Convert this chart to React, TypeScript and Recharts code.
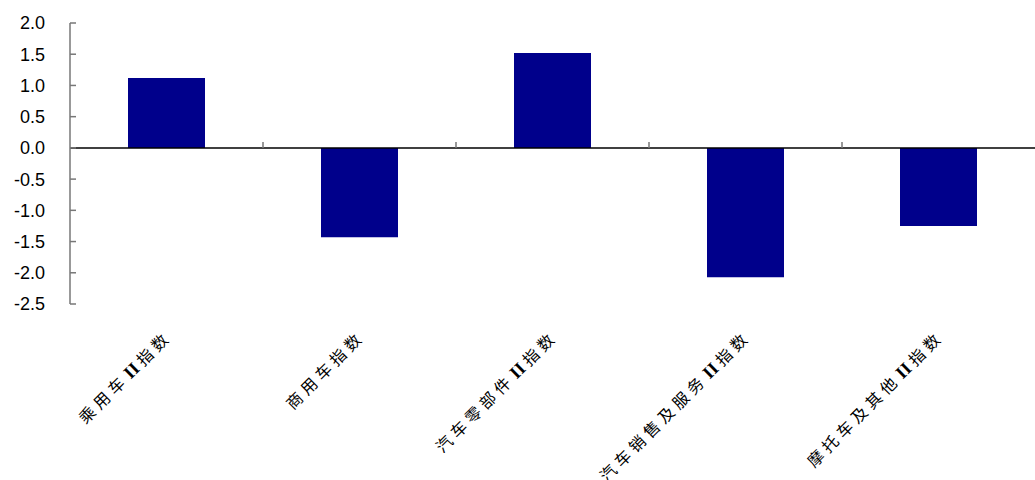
import React from "react";
import { Bar, BarChart, ReferenceLine, XAxis, YAxis } from "recharts";

// 汽车行业各二级指数涨跌幅（%）
const categories = [
  "乘用车II指数",
  "商用车指数",
  "汽车零部件II指数",
  "汽车销售及服务II指数",
  "摩托车及其他II指数",
];
const changes = [1.12, -1.43, 1.52, -2.07, -1.25];
const yTicks = [-2.5, -2.0, -1.5, -1.0, -0.5, 0, 0.5, 1.0, 1.5, 2.0];

const data = categories.map((name, i) => ({ name, value: changes[i] }));

const BAR = "#00008b";
const CJK = '"Noto Sans CJK SC", "Noto Sans", sans-serif';

// Rotated category label; the Roman "II" is set in a bold serif face
function CategoryTick(props: any) {
  const { x, y, payload } = props;
  const parts = String(payload.value).split("II");
  return (
    <g transform={`translate(${x + 6},${y})`}>
      <text
        transform="rotate(-45)"
        textAnchor="end"
        fontFamily={CJK}
        fontSize={16}
        letterSpacing={4.5}
        fill="#000"
      >
        {parts.map((p, i) => (
          <React.Fragment key={i}>
            {i > 0 && (
              <tspan
                fontFamily='"Liberation Serif", serif'
                fontWeight="bold"
                fontSize={18}
                letterSpacing={0}
                dx={2}
              >
                II
              </tspan>
            )}
            <tspan dx={i > 0 ? 4 : 0}>{p}</tspan>
          </React.Fragment>
        ))}
      </text>
    </g>
  );
}

// Zero line with short upward ticks between categories
function ZeroAxis(props: any) {
  const { x1, x2, y1 } = props;
  const n = categories.length;
  const step = (x2 - x1) / n;
  return (
    <g>
      <line x1={x1} x2={x2} y1={y1} y2={y1} stroke="#000" strokeWidth={1.5} />
      {Array.from({ length: n - 1 }, (_, i) => {
        const tx = x1 + step * (i + 1);
        return <line key={i} x1={tx} x2={tx} y1={y1} y2={y1 - 6} stroke="#777" strokeWidth={1.5} />;
      })}
    </g>
  );
}

export default function App() {
  return (
    <div style={{ position: "absolute", left: 0, top: 0, background: "#fff" }}>
      <BarChart
        width={1035}
        height={480}
        data={data}
        margin={{ top: 23, right: 0, bottom: 0, left: 0 }}
      >
        <XAxis
          dataKey="name"
          axisLine={false}
          tickLine={false}
          interval={0}
          tick={<CategoryTick />}
          height={176}
          tickSize={0}
          tickMargin={34}
        />
        <YAxis
          type="number"
          domain={[-2.5, 2]}
          ticks={yTicks}
          interval={0}
          width={70}
          tickSize={-6}
          tickMargin={31}
          tickFormatter={(v: number) => v.toFixed(1)}
          axisLine={{ stroke: "#777", strokeWidth: 1.5 }}
          tickLine={{ stroke: "#777", strokeWidth: 1.5 }}
          tick={{ fill: "#000", fontSize: 18, fontFamily: '"Liberation Sans", Arial, sans-serif' }}
        />
        <Bar dataKey="value" fill={BAR} barSize={77} isAnimationActive={false} />
        <ReferenceLine y={0} shape={<ZeroAxis />} />
      </BarChart>
    </div>
  );
}
